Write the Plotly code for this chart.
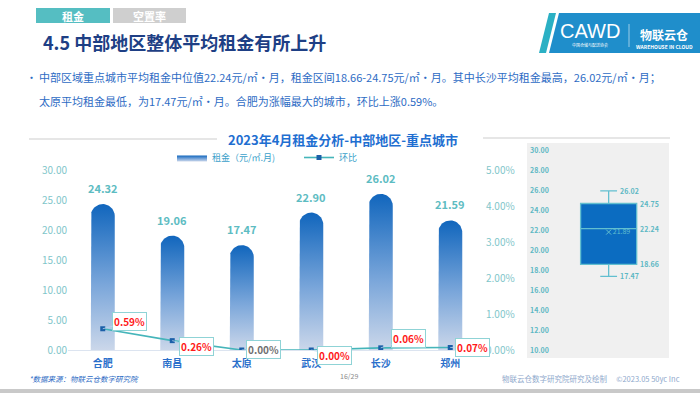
import numpy as np
import plotly.graph_objects as go

# ---------------- data ----------------
cities = ["合肥", "南昌", "太原", "武汉", "长沙", "郑州"]
rent = [24.32, 19.06, 17.47, 22.90, 26.02, 21.59]
mom = [0.0059, 0.0026, 0.0000, 0.0000, 0.0006, 0.0007]
mom_labels = ["0.59%", "0.26%", "0.00%", "0.00%", "0.06%", "0.07%"]
mom_label_colors = ["#ff1a1a", "#ff1a1a", "#6f6f6f", "#ff1a1a", "#ff1a1a", "#ff1a1a"]
box_lowerfence = 17.47
box_q1 = 18.66
box_median = 22.24
box_q3 = 24.75
box_upperfence = 26.02
box_mean = 21.89

# ---------------- layout helpers ----------------
W, H = 700, 393
FONT = "Noto Sans CJK SC"
PX0, PX1 = 68, 485        # main plot area (px)
PY0, PY1 = 170, 350
BX0, BX1 = 527, 669       # box panel (px)
BY0, BY1 = 143, 358
X_RANGE = [-0.5, 5.5]
Y_RANGE = [0, 30]
Y2_RANGE = [0, 0.05]
BOX_Y_RANGE = [9.3, 30.8]
BOX_X_RANGE = [-1.15, 0.85]


def fx(x):
    return x / W


def fy(y):
    return 1 - y / H


fig = go.Figure()

# ---------------- rounded gradient bars ----------------
ppx = (PX1 - PX0) / (X_RANGE[1] - X_RANGE[0])
ppy = (PY1 - PY0) / (Y_RANGE[1] - Y_RANGE[0])
half_px = 12
hw = half_px / ppx
ry = half_px / ppy
t = np.linspace(np.pi, 0, 30)
for i, v in enumerate(rent):
    xs = [i - hw] + list(i + hw * np.cos(t)) + [i + hw, i - hw]
    ys = [0] + list(v - ry + ry * np.sin(t)) + [0, 0]
    fig.add_trace(go.Scatter(
        x=xs, y=ys, mode="lines", fill="toself",
        line=dict(width=0, color="#3f86d2"),
        fillgradient=dict(type="vertical",
                          colorscale=[[0, "#cbd7ea"], [0.45, "#7aa6da"], [1, "#1166bd"]]),
        name="租金（元/㎡.月)", legendgroup="rent", showlegend=(i == 0),
        hoverinfo="skip",
    ))

# value labels on bars
for i, v in enumerate(rent):
    fig.add_annotation(x=i, y=v, xref="x", yref="y", text=f"<b>{v:.2f}</b>",
                       showarrow=False, yshift=16,
                       font=dict(family=FONT, size=11, color="#5dbcc2"))

# ---------------- MoM line ----------------
fig.add_trace(go.Scatter(
    x=list(range(len(cities))), y=mom, yaxis="y2", mode="lines+markers",
    line=dict(color="#45b5ba", width=1.6),
    marker=dict(symbol="square", size=5, color="#1b5fa8"),
    name="环比", hoverinfo="skip",
))

offsets = [(27, -7), (24, 6), (22, -1), (23, 5), (28, -9), (22, 0)]
for i, (lab, col) in enumerate(zip(mom_labels, mom_label_colors)):
    ax, ay = offsets[i]
    fig.add_annotation(x=i, y=mom[i], xref="x", yref="y2", text=f"<b>{lab}</b>",
                       showarrow=True, ax=ax, ay=ay, arrowhead=0, arrowwidth=0.8,
                       arrowcolor="#bcd8ee", standoff=0,
                       bgcolor="white", bordercolor="#8fd3d6", borderwidth=1, borderpad=1,
                       font=dict(family=FONT, size=10, color=col))

# ---------------- box plot ----------------
fig.add_trace(go.Box(
    x=[0], q1=[box_q1], median=[box_median], q3=[box_q3],
    lowerfence=[box_lowerfence], upperfence=[box_upperfence],
    xaxis="x2", yaxis="y3", width=0.79, whiskerwidth=0.3,
    fillcolor="#0b6cc1", line=dict(color="#62bfd0", width=1.3),
    showlegend=False, hoverinfo="skip",
))
fig.add_trace(go.Scatter(
    x=[0], y=[box_mean], xaxis="x2", yaxis="y3", mode="markers+text",
    marker=dict(symbol="x-thin", size=5, line=dict(color="#62bfd0", width=1)),
    text=[f"{box_mean:.2f}"], textposition="middle right",
    textfont=dict(family=FONT, size=7, color="#62bfd0"),
    showlegend=False, hoverinfo="skip",
))
cap_half = 0.3 * 0.79 / 2
box_half = 0.79 / 2
for xv, yv in [(cap_half, box_upperfence), (cap_half, box_lowerfence),
               (box_half, box_q3), (box_half, box_median), (box_half, box_q1)]:
    fig.add_annotation(x=xv, y=yv, xref="x2", yref="y3", text=f"<b>{yv:.2f}</b>",
                       showarrow=False, xanchor="left", xshift=1,
                       font=dict(family=FONT, size=7, color="#5db8c4"))

# ---------------- shapes ----------------
shapes = [
    # box panel background
    dict(type="rect", xref="x2 domain", yref="y3 domain", x0=0, x1=1, y0=0, y1=1,
         fillcolor="#f0f0f0", line=dict(width=0), layer="below"),
    # tabs
    dict(type="rect", xref="paper", yref="paper", x0=fx(36), x1=fx(110), y0=fy(23), y1=fy(8),
         fillcolor="#55bec2", line=dict(width=0)),
    dict(type="rect", xref="paper", yref="paper", x0=fx(113), x1=fx(186), y0=fy(23), y1=fy(8),
         fillcolor="#cfcfcf", line=dict(width=0)),
    # chart title rules
    dict(type="line", xref="paper", yref="paper", x0=fx(29), x1=fx(217), y0=fy(139), y1=fy(139),
         line=dict(color="#e6e6e6", width=2)),
    dict(type="line", xref="paper", yref="paper", x0=fx(483), x1=fx(670), y0=fy(138), y1=fy(138),
         line=dict(color="#e6e6e6", width=2)),
    # logo
    dict(type="path", xref="paper", yref="paper",
         path=f"M {fx(549)} {fy(13)} L {fx(556)} {fy(13)} L {fx(546)} {fy(53)} L {fx(539)} {fy(53)} Z",
         fillcolor="#2bb0c4", line=dict(width=0)),
    dict(type="path", xref="paper", yref="paper",
         path=f"M {fx(559)} {fy(13)} L {fx(700)} {fy(13)} L {fx(700)} {fy(53)} L {fx(549)} {fy(53)} Z",
         fillcolor="#1f8ecb", line=dict(width=0)),
    dict(type="line", xref="paper", yref="paper", x0=fx(629), x1=fx(629), y0=fy(24), y1=fy(47),
         line=dict(color="rgba(255,255,255,0.7)", width=0.8)),
    # bottom band
    dict(type="rect", xref="paper", yref="paper", x0=0, x1=1, y0=0, y1=fy(389),
         fillcolor="#c9c9c9", line=dict(width=0)),
]

# ---------------- page texts ----------------
texts = [
    dict(x=fx(73), y=fy(15.5), text="<b>租金</b>", size=11, color="white", xanchor="center"),
    dict(x=fx(149), y=fy(15.5), text="<b>空置率</b>", size=11, color="white", xanchor="center"),
    dict(x=fx(41), y=fy(42), text="<b>4.5 中部地区整体平均租金有所上升</b>", size=18, color="#1e3f85", xanchor="left"),
    dict(x=fx(24), y=fy(77), text="•", size=11, color="#2d6bc4", xanchor="left"),
    dict(x=fx(37), y=fy(77),
         text="中部区域重点城市平均租金中位值22.24元/㎡·月，租金区间18.66-24.75元/㎡·月。其中长沙平均租金最高，26.02元/㎡·月；",
         size=11, color="#2d6bc4", xanchor="left"),
    dict(x=fx(37), y=fy(101),
         text="太原平均租金最低，为17.47元/㎡·月。合肥为涨幅最大的城市，环比上涨0.59%。",
         size=11, color="#2d6bc4", xanchor="left"),
    dict(x=fx(343), y=fy(139), text="<b>2023年4月租金分析-中部地区-重点城市</b>", size=13, color="#1f6fd1", xanchor="center"),
    dict(x=fx(27), y=fy(378), text="<i>*数据来源：物联云仓数字研究院</i>", size=7.5, color="#2d6bc4", xanchor="left"),
    dict(x=fx(349), y=fy(376), text="16/29", size=7, color="#8a8a8a", xanchor="center"),
    dict(x=fx(500), y=fy(378), text="物联云仓数字研究院研究及绘制　 ©2023.05 50yc Inc", size=7.5, color="#8fa9cc", xanchor="left"),
    dict(x=fx(590), y=fy(31), text="CAWD", size=20, color="white", xanchor="center", family="DejaVu Sans ExtraLight, Liberation Sans"),
    dict(x=fx(590), y=fy(45), text="中国仓储与配送协会", size=4, color="white", xanchor="center"),
    dict(x=fx(664), y=fy(35), text="<b>物联云仓</b>", size=12, color="white", xanchor="center"),
    dict(x=fx(664), y=fy(46), text="<b>WAREHOUSE IN CLOUD</b>", size=5, color="white", xanchor="center"),
]
for tx in texts:
    fig.add_annotation(x=tx["x"], y=tx["y"], xref="paper", yref="paper", text=tx["text"],
                       showarrow=False, xanchor=tx["xanchor"], yanchor="middle",
                       font=dict(family=tx.get("family", FONT), size=tx["size"], color=tx["color"]))

axis_font = dict(family=FONT, size=10, color="#7fc6ca")
fig.update_layout(
    width=W, height=H, template="none",
    margin=dict(l=0, r=0, t=0, b=0),
    paper_bgcolor="white", plot_bgcolor="rgba(0,0,0,0)",
    font=dict(family=FONT),
    shapes=shapes,
    showlegend=True,
    legend=dict(orientation="h", x=fx(172), y=fy(157.5), xanchor="left", yanchor="middle",
                font=dict(family=FONT, size=9, color="#3b9fca"), itemwidth=30,
                entrywidth=82, entrywidthmode="pixels",
                bgcolor="rgba(0,0,0,0)", traceorder="normal"),
    xaxis=dict(domain=[fx(PX0), fx(PX1)], range=X_RANGE, tickvals=list(range(len(cities))),
               ticktext=[f"<b>{c}</b>" for c in cities], showgrid=False, zeroline=False,
               showline=False, ticks="", automargin=False, ticklabelstandoff=6,
               tickfont=dict(family=FONT, size=10, color="#2a6fcb"), anchor="y"),
    yaxis=dict(domain=[fy(PY1), fy(PY0)], range=Y_RANGE, dtick=5, tickformat=".2f",
               showgrid=False, zeroline=True, zerolinecolor="#dce4f0", zerolinewidth=1.2,
               showline=False, ticks="", automargin=False, tickfont=axis_font, anchor="x"),
    yaxis2=dict(overlaying="y", side="right", range=Y2_RANGE, dtick=0.01, tickformat=".2%",
                showgrid=False, zeroline=False, showline=False, ticks="", automargin=False,
                tickfont=axis_font, anchor="x"),
    xaxis2=dict(domain=[fx(BX0), fx(BX1)], range=BOX_X_RANGE, visible=False, anchor="y3"),
    yaxis3=dict(domain=[fy(BY1), fy(BY0)], range=BOX_Y_RANGE, dtick=2, tick0=0, tickformat=".2f",
                ticklabelposition="inside", showgrid=False, zeroline=False, showline=False,
                ticks="", automargin=False, anchor="x2",
                tickfont=dict(family=FONT, size=7, color="#5db8c4", weight="bold")),
)

fig.write_html("out.html", config={"displayModeBar": False},
               post_script="document.body.style.margin='0';document.body.style.overflow='hidden';")
